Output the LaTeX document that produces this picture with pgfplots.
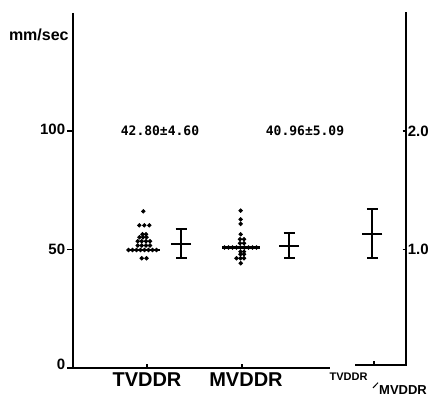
\documentclass[border=0pt]{standalone}
\usepackage{fontspec}
\setmainfont{Liberation Sans}
\newfontfamily\numfont{DejaVu Sans Mono}
\usepackage{pgfplots}
\pgfplotsset{compat=1.18}
\begin{document}
\begin{tikzpicture}
\begin{axis}[hide axis, scale only axis, width=219pt, height=197pt,
  xmin=0, xmax=438, ymin=-10.97, ymax=155.27, clip=false]
\path (axis cs:0,-10.97) rectangle (axis cs:438,155.27);
% axis lines
\addplot[black, line width=1pt] coordinates {(73,149.8)(73,0)(330,0)};
\addplot[black, line width=1pt] coordinates {(355,1.2)(405.7,1.2)(405.7,150.2)};
% y ticks left
\addplot[black, line width=0.7pt] coordinates {(67,100)(73,100)};
\addplot[black, line width=0.7pt] coordinates {(67,50)(73,50)};
\addplot[black, line width=0.7pt] coordinates {(67,0)(73,0)};
% right ticks
\addplot[black, line width=0.7pt] coordinates {(402.5,100)(405.7,100)};
\addplot[black, line width=0.7pt] coordinates {(402.5,50)(405.7,50)};
% x ticks
\addplot[black, line width=0.7pt] coordinates {(147,0)(147,1.8)};
\addplot[black, line width=0.7pt] coordinates {(242,0)(242,1.8)};
\addplot[black, line width=0.7pt] coordinates {(374,1.2)(374,3.0)};
% TVDDR dots
\addplot[only marks, mark=*, mark size=0.9pt, black] coordinates {
(143.3,66.1)
(139.3,60.2)(144.3,60.2)(149.3,60.2)
(142.5,56.4)(146,56.4)
(139.5,55.2)(143,55.2)(146.5,55.2)
(137.7,53.5)(141.7,53.5)(146,53.5)(150,53.5)
(137.7,51.7)(141.7,51.7)(146,51.7)(150,51.7)
(128.5,49.8)(132.5,49.8)(136.5,49.8)(140.5,49.8)(144.5,49.8)(148.5,49.8)(152.5,49.8)(156.5,49.8)
(141.7,46.3)(146.5,46.3)
};
\addplot[black, line width=1.1pt] coordinates {(126.7,49.8)(160,49.8)};
% MVDDR dots
\addplot[only marks, mark=*, mark size=0.9pt, black] coordinates {
(240.7,66.4)(240.7,62.7)(240.7,60.8)(240.7,56.4)
(240,54.3)(244,54.3)
(240,52.6)(244,52.6)
(224.5,50.8)(228.5,50.8)(232.5,50.8)(236.5,50.8)(240.5,50.8)(244.5,50.8)(248.5,50.8)(252.5,50.8)(256.5,50.8)
(240.5,49.1)(244,49.1)
(240.5,48)(244,48)
(236.5,46.3)(240.5,46.3)(244,46.3)
(240.7,44.2)
};
\addplot[black, line width=1.1pt] coordinates {(222,50.8)(260,50.8)};
% mean +- SD bars
\addplot[black, only marks, mark=-, mark size=5pt, mark options={line width=1pt},
  error bars/.cd, y dir=both, y explicit, error mark=|,
  error mark options={mark size=2.75pt, line width=1pt},
  error bar style={line width=1pt}] coordinates {
(181,52.2) += (0,6.3) -= (0,5.9)
(289,51.6) += (0,5.2) -= (0,5.1)
(372.3,56.5) += (0,10.6) -= (0,10.2)
};
% texts
\node[anchor=base east, font=\bfseries\fontsize{8}{9}\selectfont, inner sep=0pt] at (axis cs:69,138.2) {mm/sec};
\node[anchor=east, font=\bfseries\fontsize{7.5}{8}\selectfont, inner sep=0pt] at (axis cs:65.5,100.5) {100};
\node[anchor=east, font=\bfseries\fontsize{7.5}{8}\selectfont, inner sep=0pt] at (axis cs:65.5,50) {50};
\node[anchor=east, font=\bfseries\fontsize{7.5}{8}\selectfont, inner sep=0pt] at (axis cs:65.5,1.5) {0};
\node[anchor=west, font=\bfseries\fontsize{7.5}{8}\selectfont, inner sep=0pt] at (axis cs:407.5,100) {2.0};
\node[anchor=west, font=\bfseries\fontsize{7.5}{8}\selectfont, inner sep=0pt] at (axis cs:407.5,50) {1.0};
\node[font=\numfont\bfseries\fontsize{6.5}{7}\selectfont, inner sep=0pt] at (axis cs:160,100.2) {42.80±4.60};
\node[font=\numfont\bfseries\fontsize{6.5}{7}\selectfont, inner sep=0pt] at (axis cs:305,100.2) {40.96±5.09};
\node[font=\bfseries\fontsize{10}{11}\selectfont, inner sep=0pt] at (axis cs:147,-4.85) {TVDDR};
\node[font=\bfseries\fontsize{10}{11}\selectfont, inner sep=0pt] at (axis cs:246,-4.85) {MVDDR};
\node[font=\bfseries\fontsize{5.5}{6}\selectfont, inner sep=0pt] at (axis cs:348.5,-3.8) {TVDDR};
\node[font=\bfseries\fontsize{6.5}{7}\selectfont, inner sep=0pt] at (axis cs:403,-9.1) {MVDDR};
\addplot[black, line width=0.5pt] coordinates {(373,-8.4)(378,-6.2)};
\end{axis}
\end{tikzpicture}
\end{document}
